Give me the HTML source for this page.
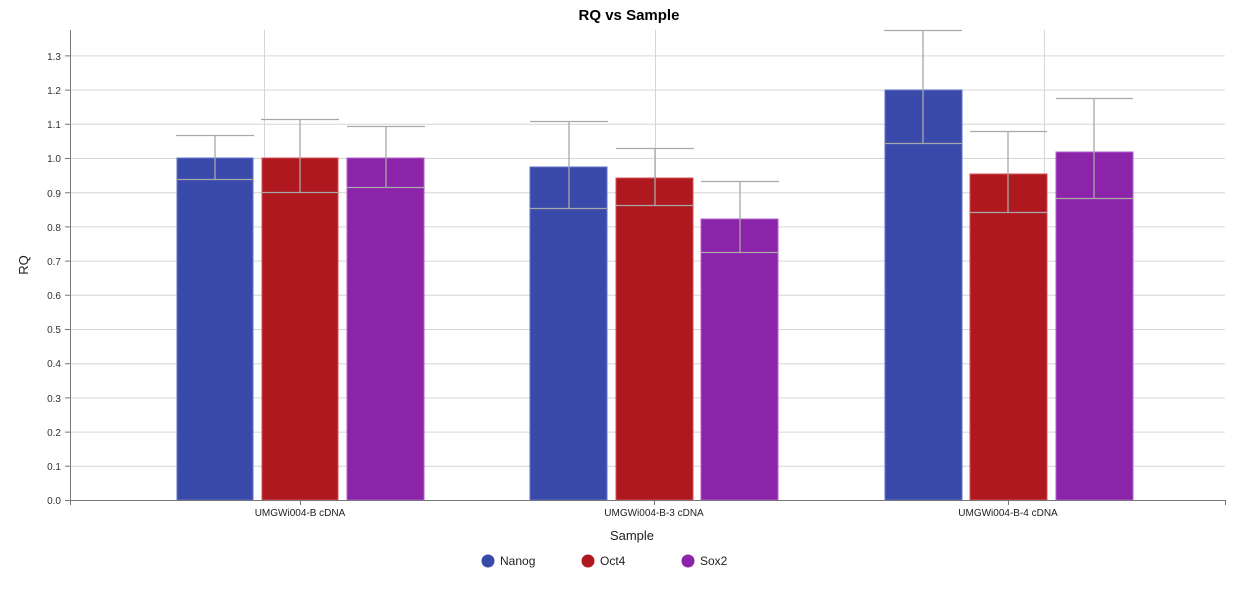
<!DOCTYPE html>
<html><head><style>body{margin:0;background:#fff}svg{display:block;font-family:"Liberation Sans",Arial,sans-serif}</style></head><body>
<svg width="1259" height="589" viewBox="0 0 1259 589">
<text x="629" y="20" font-size="15" font-weight="bold" text-anchor="middle" fill="#000">RQ vs Sample</text>
<g stroke="#d6d6d6" stroke-width="1">
<line x1="70" x2="1225" y1="466.3" y2="466.3"/><line x1="70" x2="1225" y1="432.1" y2="432.1"/><line x1="70" x2="1225" y1="397.9" y2="397.9"/><line x1="70" x2="1225" y1="363.7" y2="363.7"/><line x1="70" x2="1225" y1="329.5" y2="329.5"/><line x1="70" x2="1225" y1="295.3" y2="295.3"/><line x1="70" x2="1225" y1="261.1" y2="261.1"/><line x1="70" x2="1225" y1="226.9" y2="226.9"/><line x1="70" x2="1225" y1="192.7" y2="192.7"/><line x1="70" x2="1225" y1="158.5" y2="158.5"/><line x1="70" x2="1225" y1="124.3" y2="124.3"/><line x1="70" x2="1225" y1="90.1" y2="90.1"/><line x1="70" x2="1225" y1="55.9" y2="55.9"/>
<line x1="264.5" x2="264.5" y1="30" y2="500"/><line x1="655.5" x2="655.5" y1="30" y2="500"/><line x1="1044.5" x2="1044.5" y1="30" y2="500"/>
</g>
<g stroke-width="1">
<rect x="177" y="158" width="76" height="342" fill="#394aab" stroke="#6070c8"/>
<rect x="262" y="158" width="76" height="342" fill="#b0181f" stroke="#d05058"/>
<rect x="347" y="158" width="77" height="342" fill="#8c24aa" stroke="#b060c8"/>
<rect x="530" y="167" width="77" height="333" fill="#394aab" stroke="#6070c8"/>
<rect x="616" y="178" width="77" height="322" fill="#b0181f" stroke="#d05058"/>
<rect x="701" y="219" width="77" height="281" fill="#8c24aa" stroke="#b060c8"/>
<rect x="885" y="90" width="77" height="410" fill="#394aab" stroke="#6070c8"/>
<rect x="970" y="174" width="77" height="326" fill="#b0181f" stroke="#d05058"/>
<rect x="1056" y="152" width="77" height="348" fill="#8c24aa" stroke="#b060c8"/>
</g>
<g stroke="#a8a8a8" stroke-width="1.3" fill="none">
<path d="M176 135.5H254M215 135.5V179M176 179.5H254"/>
<path d="M261 119.5H339M300 119.5V192M261 192.5H339"/>
<path d="M347 126.5H425M386 126.5V187M347 187.5H425"/>
<path d="M530 121.5H608M569 121.5V208M530 208.5H608"/>
<path d="M616 148.5H694M655 148.5V205M616 205.5H694"/>
<path d="M701 181.5H779M740 181.5V252M701 252.5H779"/>
<path d="M884 30.5H962M923 30.5V143M884 143.5H962"/>
<path d="M970 131.5H1047M1008 131.5V212M970 212.5H1047"/>
<path d="M1056 98.5H1133M1094 98.5V198M1056 198.5H1133"/>
</g>
<g stroke="#777" stroke-width="1" fill="none">
<path d="M70.5 30V505M70 500.5H1225.5V505M300.5 500V505M654.5 500V505M1008.5 500V505"/>
<path d="M65 500.5H70M65 466.3H70M65 432.1H70M65 397.9H70M65 363.7H70M65 329.5H70M65 295.3H70M65 261.1H70M65 226.9H70M65 192.7H70M65 158.5H70M65 124.3H70M65 90.1H70M65 55.9H70"/>
</g>
<g font-size="10" fill="#333" text-anchor="end">
<text x="61" y="504">0.0</text><text x="61" y="470">0.1</text><text x="61" y="436">0.2</text><text x="61" y="402">0.3</text><text x="61" y="367">0.4</text><text x="61" y="333">0.5</text><text x="61" y="299">0.6</text><text x="61" y="265">0.7</text><text x="61" y="231">0.8</text><text x="61" y="197">0.9</text><text x="61" y="162">1.0</text><text x="61" y="128">1.1</text><text x="61" y="94">1.2</text><text x="61" y="60">1.3</text>
</g>
<g font-size="10" fill="#222" text-anchor="middle">
<text x="300" y="516">UMGWi004-B cDNA</text><text x="654" y="516">UMGWi004-B-3 cDNA</text><text x="1008" y="516">UMGWi004-B-4 cDNA</text>
</g>
<text x="632" y="540" font-size="13" fill="#222" text-anchor="middle">Sample</text>
<text transform="translate(28 265) rotate(-90)" font-size="13" fill="#222" text-anchor="middle">RQ</text>
<g font-size="12" fill="#222">
<circle cx="488" cy="561" r="6.5" fill="#394aab"/><text x="500" y="565">Nanog</text>
<circle cx="588" cy="561" r="6.5" fill="#b0181f"/><text x="600" y="565">Oct4</text>
<circle cx="688" cy="561" r="6.5" fill="#8c24aa"/><text x="700" y="565">Sox2</text>
</g>
</svg>
</body></html>
